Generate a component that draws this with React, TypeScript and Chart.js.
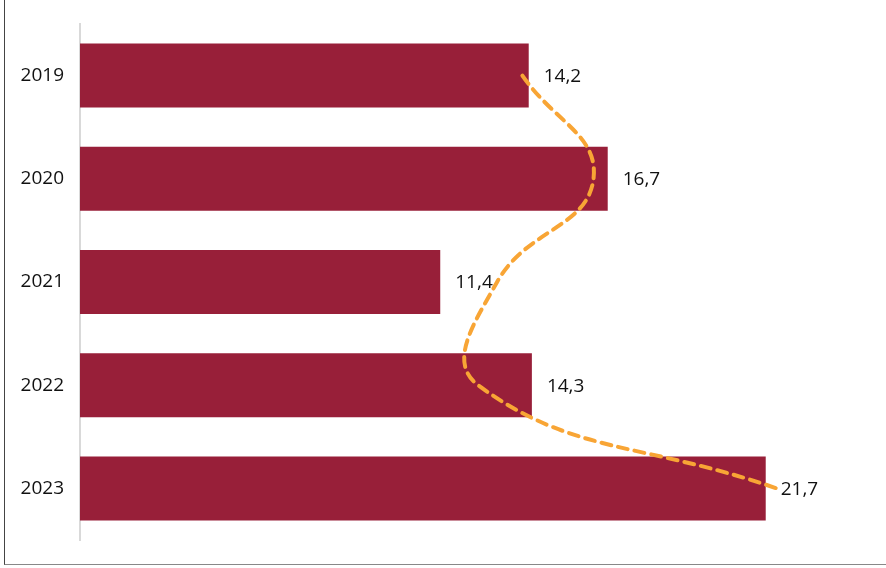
import React, { useEffect, useRef } from "react";
import { Chart, registerables } from "chart.js";

Chart.register(...registerables);

const categories = ["2019", "2020", "2021", "2022", "2023"];
const barValues = [14.2, 16.7, 11.4, 14.3, 21.7];
const barLabels = ["14,2", "16,7", "11,4", "14,3", "21,7"];
const trendValues = [14.0, 16.25, 13.2, 12.6, 22.05];

const FONT = "'Open Sans', 'Noto Sans', sans-serif";

const labelPlugin = {
  id: "barValueLabels",
  afterDatasetsDraw(chart: any) {
    const ctx = chart.ctx;
    const meta = chart.getDatasetMeta(1);
    ctx.save();
    ctx.font = `19px ${FONT}`;
    ctx.fillStyle = "#111111";
    ctx.textAlign = "left";
    ctx.textBaseline = "middle";
    meta.data.forEach((el: any, i: number) => {
      ctx.fillText(barLabels[i], el.x + 15, el.y + 1);
    });
    ctx.restore();
  },
};

export default function App() {
  const ref = useRef<HTMLCanvasElement | null>(null);

  useEffect(() => {
    if (!ref.current) return;
    const chart = new Chart(ref.current, {
      type: "bar",
      data: {
        labels: categories,
        datasets: [
          {
            type: "line",
            label: "trend",
            data: trendValues,
            indexAxis: "y",
            xAxisID: "x",
            yAxisID: "y",
            borderColor: "#F8A535",
            borderWidth: 4,
            borderDash: [10, 7],
            borderCapStyle: "round",
            pointRadius: 0,
            tension: 0.45,
            fill: false,
            order: 0,
          } as any,
          {
            type: "bar",
            label: "values",
            data: barValues,
            backgroundColor: "#981F39",
            barPercentage: 0.62,
            categoryPercentage: 1,
            order: 1,
          },
        ],
      },
      options: {
        indexAxis: "y",
        animation: false,
        responsive: false,
        maintainAspectRatio: false,
        layout: { padding: { left: 0, right: 16, top: 24, bottom: 28 } },
        plugins: {
          legend: { display: false },
          tooltip: { enabled: false },
        },
        scales: {
          x: {
            display: false,
            min: 0,
            max: 25,
            grid: { display: false },
          },
          y: {
            grid: { display: false, drawTicks: false },
            border: { display: true, color: "#D9D9D9", width: 2 },
            ticks: {
              color: "#111111",
              font: { family: FONT, size: 19 },
              padding: 16,
            },
            afterFit(scale: any) {
              scale.width = 80;
              scale.paddingTop = 0;
              scale.paddingBottom = 0;
            },
          },
        },
      },
      plugins: [labelPlugin],
    });
    return () => chart.destroy();
  }, []);

  return (
    <div style={{ position: "fixed", left: 0, top: 0, width: 886, height: 568, background: "#ffffff" }}>
      <canvas ref={ref} width={886} height={568} style={{ position: "absolute", left: 0, top: 0 }} />
      <div
        style={{
          position: "absolute",
          left: 4,
          top: -1,
          width: 890,
          height: 566,
          borderLeft: "1.5px solid #444",
          borderBottom: "1.5px solid #888",
          boxSizing: "border-box",
          pointerEvents: "none",
        }}
      />
    </div>
  );
}
